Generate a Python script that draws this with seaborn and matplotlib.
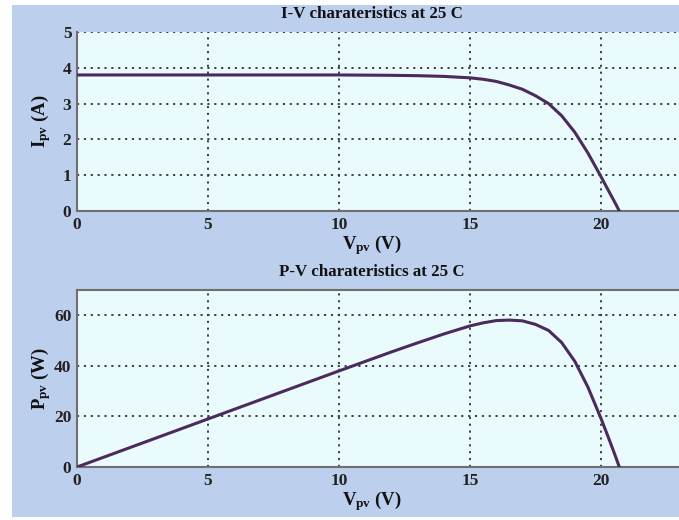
import matplotlib
matplotlib.use("Agg")
import matplotlib.pyplot as plt
import seaborn as sns
import pandas as pd
from matplotlib.patches import Rectangle

# ---- data ----
v_pv = [0, 2, 4, 6, 8, 10, 12, 13, 14, 15, 15.5, 16, 16.5, 17, 17.5, 18,
        18.5, 19, 19.5, 20, 20.3, 20.5, 20.7]
i_pv = [3.80, 3.80, 3.80, 3.80, 3.80, 3.80, 3.79, 3.78, 3.76, 3.72, 3.68,
        3.62, 3.52, 3.40, 3.22, 3.00, 2.66, 2.20, 1.62, 0.96, 0.55, 0.28, 0.0]
p_pv = [0, 7.6, 15.2, 22.8, 30.4, 38.0, 45.5, 49.1, 52.6, 55.8, 57.0,
        57.9, 58.1, 57.8, 56.4, 54.0, 49.2, 41.8, 31.6, 19.2, 11.2, 5.7, 0.0]
x_ticks = [0, 5, 10, 15, 20]
iv_yticks = [0, 1, 2, 3, 4, 5]
pv_yticks = [0, 20, 40, 60]
titles = ["I-V charateristics at 25 C", "P-V charateristics at 25 C"]
xlabel = "V$_{\\mathrm{pv}}$ (V)"
ylabels = ["I$_{\\mathrm{pv}}$ (A)", "P$_{\\mathrm{pv}}$ (W)"]

df = pd.DataFrame({"V": v_pv, "I": i_pv, "P": p_pv})

sns.set_style("white")
plt.rcParams["font.family"] = ["Liberation Serif", "DejaVu Serif"]
plt.rcParams["font.weight"] = "bold"
plt.rcParams["mathtext.fontset"] = "custom"
plt.rcParams["mathtext.rm"] = "Liberation Serif:bold"
plt.rcParams["mathtext.bf"] = "Liberation Serif:bold"
plt.rcParams["mathtext.it"] = "Liberation Serif:bold"

W, H = 679, 520
fig = plt.figure(figsize=(W / 100, H / 100), dpi=100, facecolor="white")
fig.patches.append(Rectangle((12 / W, 0.005), 1, 1 - 5 / H - 0.005,
                             transform=fig.transFigure, facecolor="#bccfec",
                             edgecolor="none", zorder=-10))

bg = "#eafbfd"
line_c = "#4a2b5c"
grid_c = "#333333"

def px_axes(left, top, right, bottom):
    return [left / W, 1 - bottom / H, (right - left) / W, (bottom - top) / H]

ax1 = fig.add_axes(px_axes(77, 32, 732, 211))
ax2 = fig.add_axes(px_axes(77, 290, 732, 467))

specs = [(ax1, "I", (0, 5), iv_yticks, 179), (ax2, "P", (0, 70), pv_yticks, 177)]
for k, (ax, col, ylim, yt, hpx) in enumerate(specs):
    ax.set_facecolor(bg)
    sns.lineplot(data=df, x="V", y=col, ax=ax, color=line_c, linewidth=2.2,
                 sort=False, zorder=5)
    ax.set_xlim(0, 25)
    ax.set_ylim(*ylim)
    ax.set_xticks(x_ticks)
    ax.set_yticks(yt)
    ax.tick_params(axis="both", direction="in", length=4, width=1,
                   color="#555555", labelsize=12.5, labelcolor="#222222", pad=4)
    for lab in ax.get_xticklabels() + ax.get_yticklabels():
        lab.set_fontweight("bold")
    ax.xaxis.grid(True, color=grid_c, linestyle=(0, (1.2, 2.6)), linewidth=1.3)
    ax.yaxis.grid(True, color=grid_c, linestyle=(0, (1.2, 2.6)), linewidth=1.3)
    for s in ["left", "bottom", "top", "right"]:
        ax.spines[s].set_color("#6f6f6f")
        ax.spines[s].set_linewidth(1.5)
    if k == 0:
        ax.spines["top"].set_visible(False)
    ax.axvline(25, color=grid_c, linestyle=(0, (1.2, 2.6)), linewidth=1.3)
    ax.set_title("")
    ax.text(0.45, 1 + 10 / hpx, titles[k], transform=ax.transAxes,
            ha="center", va="bottom", fontsize=12.2, fontweight="bold",
            color="#111111")
    ax.set_xlabel(xlabel, fontsize=13.5, fontweight="bold", color="#111111")
    ax.xaxis.set_label_coords(0.45, -22 / hpx)
    ax.set_ylabel(ylabels[k], fontsize=13.5, fontweight="bold", color="#111111")
    ax.yaxis.set_label_coords(-24 / 655, 0.5)

fig.savefig("out.png", dpi=100, facecolor=fig.get_facecolor())
